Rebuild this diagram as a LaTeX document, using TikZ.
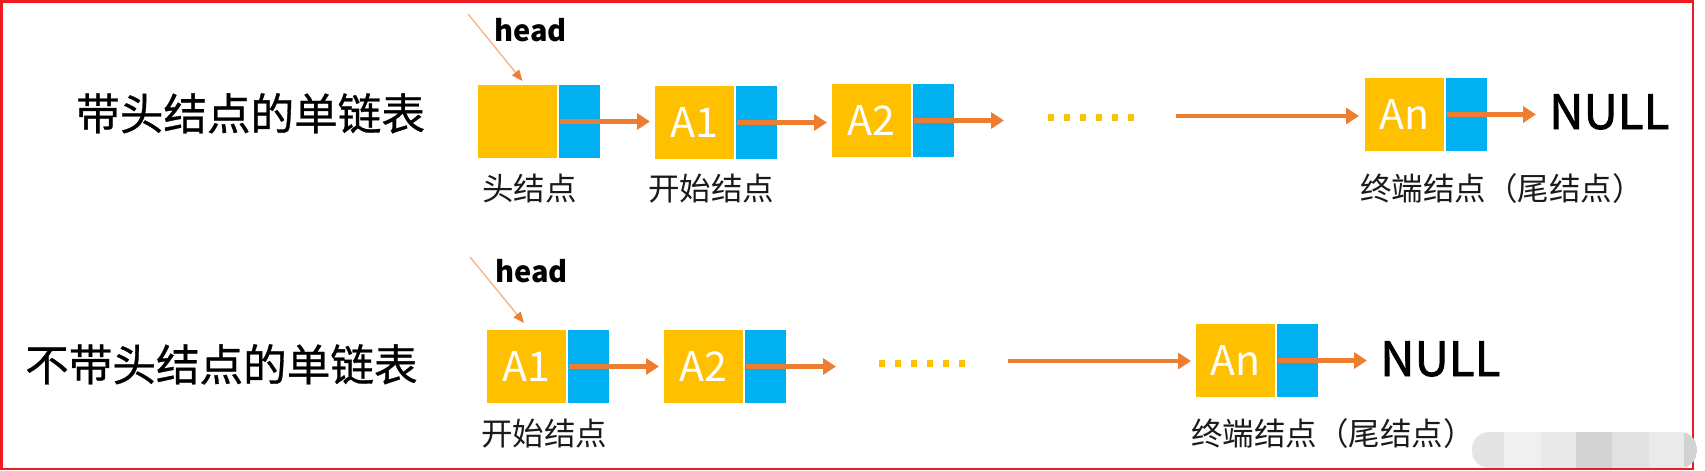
\documentclass[tikz,border=0pt]{standalone}
\usepackage{fontspec}
\setmainfont{Noto Sans CJK SC}
\newfontfamily\heavyA[FakeBold=0.7]{Noto Sans CJK SC}
\newfontfamily\heavyB[FakeBold=1.6]{Noto Sans CJK SC}
\usetikzlibrary{arrows.meta}
\definecolor{yelc}{HTML}{FFC000}
\definecolor{bluc}{HTML}{00B0F0}
\definecolor{orc}{HTML}{ED7D31}
\definecolor{orl}{HTML}{F4B183}
\definecolor{frame}{HTML}{ED1C24}
\definecolor{txt}{HTML}{1A1A1A}
\tikzset{
  yel/.style={draw=white, line width=1pt, fill=yelc, minimum width=80pt, minimum height=74pt,
    inner sep=0pt, anchor=north west, text=white, font=\fontsize{41pt}{41pt}\selectfont},
  blu/.style={draw=white, line width=1pt, fill=bluc, minimum width=42pt, minimum height=74pt,
    inner sep=0pt, anchor=north west},
  arr/.style={draw=orc, line width=4.3pt, -{Triangle[length=13pt,width=16pt]}},
  harr/.style={draw=orl, line width=1.3pt, -{Triangle[length=11pt,width=9pt,color=orc]}},
  dots/.style={draw=yelc, line width=7pt, dash pattern=on 6pt off 10pt},
  title/.style={inner sep=0pt, anchor=base west, text=black, font=\heavyA\fontsize{43.6pt}{43.6pt}\selectfont},
  lab/.style={inner sep=0pt, anchor=base west, text=txt, font=\fontsize{31.5pt}{31.5pt}\selectfont},
  headlab/.style={inner sep=0pt, anchor=base west, text=black, font=\fontsize{29pt}{29pt}\selectfont\bfseries},
  nul/.style={inner sep=0pt, anchor=base west, text=black, font=\heavyB\fontsize{47.5pt}{47.5pt}\selectfont},
}
\begin{document}
\begin{tikzpicture}[x=1pt, y=-1pt]
\useasboundingbox (0,0) rectangle (1705,471);
\draw[frame, line width=2.5pt] (1.5,1.5) rectangle (1693,469);

% ---------- row 1 ----------
\node[title] (t1) at (76,130) {带头结点的单链表};
\node[headlab] (hd1) at (494,41.7) {head};
\coordinate (hs1) at (468,14);

\node[yel] (H1y) at (477,84) {};
\node[blu] (H1b) at (H1y.north east) {};
\node[yel] (A11y) at (654,85) {A1};
\node[blu] (A11b) at (A11y.north east) {};
\node[yel] (A21y) at (831,83) {A2};
\node[blu] (A21b) at (A21y.north east) {};
\node[yel] (An1y) at (1364,77) {An};
\node[blu] (An1b) at (An1y.north east) {};
\node[nul] (N1) at (1549,129) {NULL};

\coordinate (e1) at (1004,120);
\coordinate (d1s) at (1048,117);
\coordinate (d1e) at (1134,117);
\coordinate (s1) at (1176,116);

\draw[harr] (hs1) -- ([shift={(5pt,3pt)}]H1y.north);
\draw[arr] ([xshift=2pt]H1b.west) -- ([xshift=-4pt]H1b.west -| A11y.west);
\draw[arr] ([xshift=2pt]A11b.west) -- ([xshift=-4pt]A11b.west -| A21y.west);
\draw[arr] ([xshift=2pt]A21b.west) -- (A21b.west -| e1);
\draw[dots] (d1s) -- (d1e);
\draw[arr] (s1) -- ([xshift=-5pt]s1 -| An1y.west);
\draw[arr] ([xshift=2pt]An1b.west) -- ([xshift=-13pt]An1b.west -| N1.west);

\node[lab] (l11) at (482,200) {头结点};
\node[lab] (l12) at (648,200) {开始结点};
\node[lab] (l13) at (1360,200) {终端结点（尾结点）};

% ---------- row 2 ----------
\node[title] (t2) at (25,381) {不带头结点的单链表};
\node[headlab] (hd2) at (495,282.7) {head};
\coordinate (hs2) at (470,257);

\node[yel] (A12y) at (486,329) {A1};
\node[blu] (A12b) at (A12y.north east) {};
\node[yel] (A22y) at (663,329) {A2};
\node[blu] (A22b) at (A22y.north east) {};
\node[yel] (An2y) at (1195,323) {An};
\node[blu] (An2b) at (An2y.north east) {};
\node[nul] (N2) at (1380,376) {NULL};

\coordinate (e2) at (836,366);
\coordinate (d2s) at (879,363);
\coordinate (d2e) at (965,363);
\coordinate (s2) at (1008,361);

\draw[harr] (hs2) -- ([shift={(-2.5pt,6pt)}]A12y.north);
\draw[arr] ([xshift=2pt]A12b.west) -- ([xshift=-4pt]A12b.west -| A22y.west);
\draw[arr] ([xshift=2pt]A22b.west) -- (A22b.west -| e2);
\draw[dots] (d2s) -- (d2e);
\draw[arr] (s2) -- ([xshift=-4pt]s2 -| An2y.west);
\draw[arr] ([xshift=2pt]An2b.west) -- ([xshift=-13pt]An2b.west -| N2.west);

\node[lab] (l22) at (481,445) {开始结点};
\node[lab] (l23) at (1191,445) {终端结点（尾结点）};

% ---------- blurred watermark ----------
\begin{scope}
\clip[rounded corners=17pt] (1472,432) rectangle (1697,468);
\fill[fill={rgb,255:red,228;green,228;blue,228}] (1472,432) rectangle (1504,468);
\fill[fill={rgb,255:red,240;green,240;blue,240}] (1504,432) rectangle (1541,468);
\fill[fill={rgb,255:red,233;green,233;blue,233}] (1541,432) rectangle (1576,468);
\fill[fill={rgb,255:red,211;green,211;blue,211}] (1576,432) rectangle (1612,468);
\fill[fill={rgb,255:red,225;green,225;blue,225}] (1612,432) rectangle (1649,468);
\fill[fill={rgb,255:red,234;green,234;blue,234}] (1649,432) rectangle (1684,468);
\fill[fill={rgb,255:red,210;green,210;blue,210}] (1684,432) rectangle (1697,468);
\end{scope}
\end{tikzpicture}
\end{document}
